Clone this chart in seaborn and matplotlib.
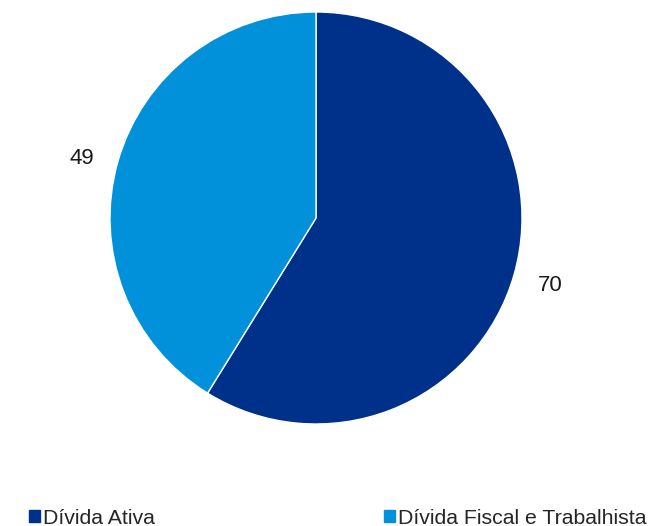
import matplotlib
matplotlib.use("Agg")
import matplotlib.pyplot as plt
import matplotlib.patches as mpatches
import seaborn as sns

# data
labels = ["Dívida Ativa", "Dívida Fiscal e Trabalhista"]
values = [70, 49]
colors = ["#00318A", "#0091DA"]

sns.set_theme(style="white")
plt.rcParams['font.family'] = ['Liberation Sans', 'DejaVu Sans']

fig = plt.figure(figsize=(6.54, 5.26), dpi=100)
# axes placed so the pie centre sits at (316, 218) px with radius ~206 px
lim = 1.3
half = 206 * lim
ax = fig.add_axes([(316 - half) / 654, (526 - 218 - half) / 526,
                   2 * half / 654, 2 * half / 526])
wedges, texts = ax.pie(values, colors=colors, startangle=90, counterclock=False,
                       labels=[str(v) for v in values], labeldistance=1.12,
                       wedgeprops=dict(edgecolor="white", linewidth=1),
                       textprops=dict(fontsize=16, color="#1a1a1a", va="top"))
ax.set_xlim(-lim, lim)
ax.set_ylim(-lim, lim)
ax.set_aspect("equal")
ax.axis("off")
# labels sit a little lower than centred
for t in texts:
    t.set_va("center")
    x, y = t.get_position()
    t.set_position((x, y - 0.02))

handles = [mpatches.Patch(color=c, label=l) for c, l in zip(colors, labels)]
fig.legend(handles=handles, loc="center left", bbox_to_anchor=(29 / 654, 8 / 526),
           ncol=2, frameon=False, fontsize=15.3, handlelength=0.5, handleheight=0.5,
           handletextpad=0.15, columnspacing=10.8, borderpad=0, borderaxespad=0)

plt.savefig("out.png", dpi=100)
